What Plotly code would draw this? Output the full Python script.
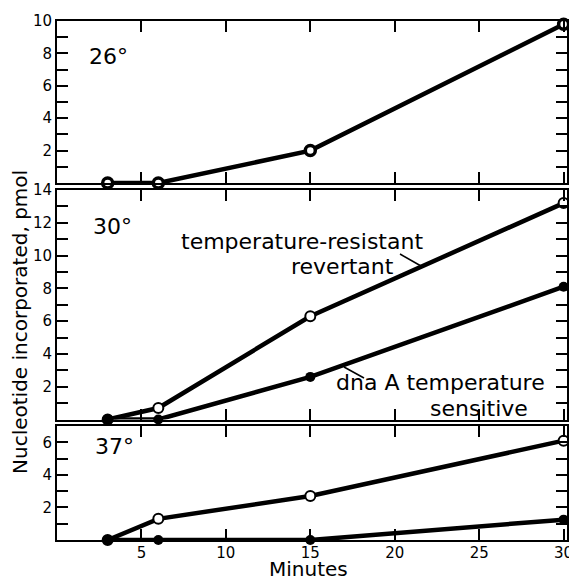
import plotly.graph_objects as go

minutes = [3, 6, 15, 30]
y26 = [0, 0, 2.0, 9.8]
y30_revertant = [0, 0.7, 6.3, 13.2]
y30_dnaA = [0, 0, 2.6, 8.1]
y37_revertant = [0, 1.3, 2.7, 6.1]
y37_dnaA = [0, 0, 0, 1.25]

x_ticks = [5, 10, 15, 20, 25, 30]

# page body has an 8px margin; size the figure so it fits the window
OFF = 8
W, H = 577 - OFF, 580 - OFF
ML, MR, MT, MB = 49, 10, 13, 40
PW = W - ML - MR
PH = H - MT - MB


def px(x):
    return (x - OFF - ML) / PW


def py(y):
    return (H - MB - (y - OFF)) / PH


fig = go.Figure()

BLACK = "black"
LW = 4.5


def add_series(x, y, xa, ya, filled):
    fig.add_trace(go.Scatter(
        x=x, y=y, xaxis=xa, yaxis=ya, mode="lines+markers",
        line=dict(color=BLACK, width=LW),
        marker=dict(symbol="circle", size=10,
                    color=BLACK if filled else "white",
                    line=dict(color=BLACK, width=2 if not filled else 0)),
        cliponaxis=False, showlegend=False, hoverinfo="skip"))


# 26 deg panel: ringed markers
fig.add_trace(go.Scatter(
    x=minutes, y=y26, xaxis="x", yaxis="y", mode="lines+markers",
    line=dict(color=BLACK, width=LW),
    marker=dict(symbol="circle", size=10, color="white",
                line=dict(color=BLACK, width=3.5)),
    cliponaxis=False, showlegend=False, hoverinfo="skip"))

add_series(minutes, y30_revertant, "x2", "y2", False)
add_series(minutes, y30_dnaA, "x2", "y2", True)
add_series(minutes, y37_revertant, "x3", "y3", False)
add_series(minutes, y37_dnaA, "x3", "y3", True)

FONT = "DejaVu Sans"
tick_font = dict(family=FONT, size=15, color=BLACK)


def yaxis(top, domain, anchor):
    vals = list(range(1, top + 1))
    text = [str(v) if v % 2 == 0 else "" for v in vals]
    return dict(domain=domain, range=[0, top], anchor=anchor,
                tickvals=vals, ticktext=text, ticks="inside", ticklen=11,
                tickwidth=1.5, tickcolor=BLACK, showline=True, linecolor=BLACK,
                linewidth=2, mirror="ticks", showgrid=False, zeroline=False,
                tickfont=tick_font, fixedrange=True, automargin=False)


def xaxis(anchor, labels):
    return dict(domain=[0, 1], range=[0, 30.2], anchor=anchor,
                tickvals=x_ticks, ticks="inside", ticklen=11, tickwidth=1.5,
                tickcolor=BLACK, showline=True, linecolor=BLACK, linewidth=2,
                mirror="ticks", showgrid=False, zeroline=False,
                showticklabels=labels, tickfont=tick_font, fixedrange=True,
                automargin=False, ticklabelstandoff=-2)


fig.update_layout(
    width=W, height=H,
    margin=dict(l=ML, r=MR, t=MT, b=MB, autoexpand=False),
    paper_bgcolor="white", plot_bgcolor="white",
    xaxis=xaxis("y", False),
    xaxis2=xaxis("y2", False),
    xaxis3=xaxis("y3", True),
    yaxis=yaxis(10, [py(183), 1], "x"),
    yaxis2=yaxis(14, [py(419.5), py(190)], "x2"),
    yaxis3=yaxis(7, [0, py(426)], "x3"),
)

ann_font = dict(family=FONT, size=22, color=BLACK)
annotations = [
    dict(text="26°", x=px(108), y=py(57)),
    dict(text="30°", x=px(112), y=py(227)),
    dict(text="37°", x=px(114), y=py(446)),
    dict(text="temperature-resistant", x=px(302), y=py(241)),
    dict(text="revertant", x=px(342), y=py(266)),
    dict(text="dna A temperature", x=px(440), y=py(382)),
    dict(text="sensitive", x=px(479), y=py(408)),
]
for a in annotations:
    fig.add_annotation(xref="paper", yref="paper", showarrow=False,
                       xanchor="center", yanchor="middle", font=ann_font, **a)

fig.add_annotation(text="Nucleotide incorporated, pmol", xref="paper",
                   yref="paper", x=px(20), y=py(322), textangle=-90,
                   showarrow=False, xanchor="center", yanchor="middle",
                   font=dict(family=FONT, size=20, color=BLACK))
fig.add_annotation(text="Minutes", xref="paper", yref="paper", x=px(308),
                   y=py(569), showarrow=False, xanchor="center",
                   yanchor="middle", font=dict(family=FONT, size=20, color=BLACK))

for (x0, y0, x1, y1) in [(400, 254, 421, 266), (344, 367, 364, 378)]:
    fig.add_shape(type="line", xref="paper", yref="paper",
                  x0=px(x0), y0=py(y0), x1=px(x1), y1=py(y1),
                  line=dict(color=BLACK, width=1.5))

fig.write_html("out.html")
